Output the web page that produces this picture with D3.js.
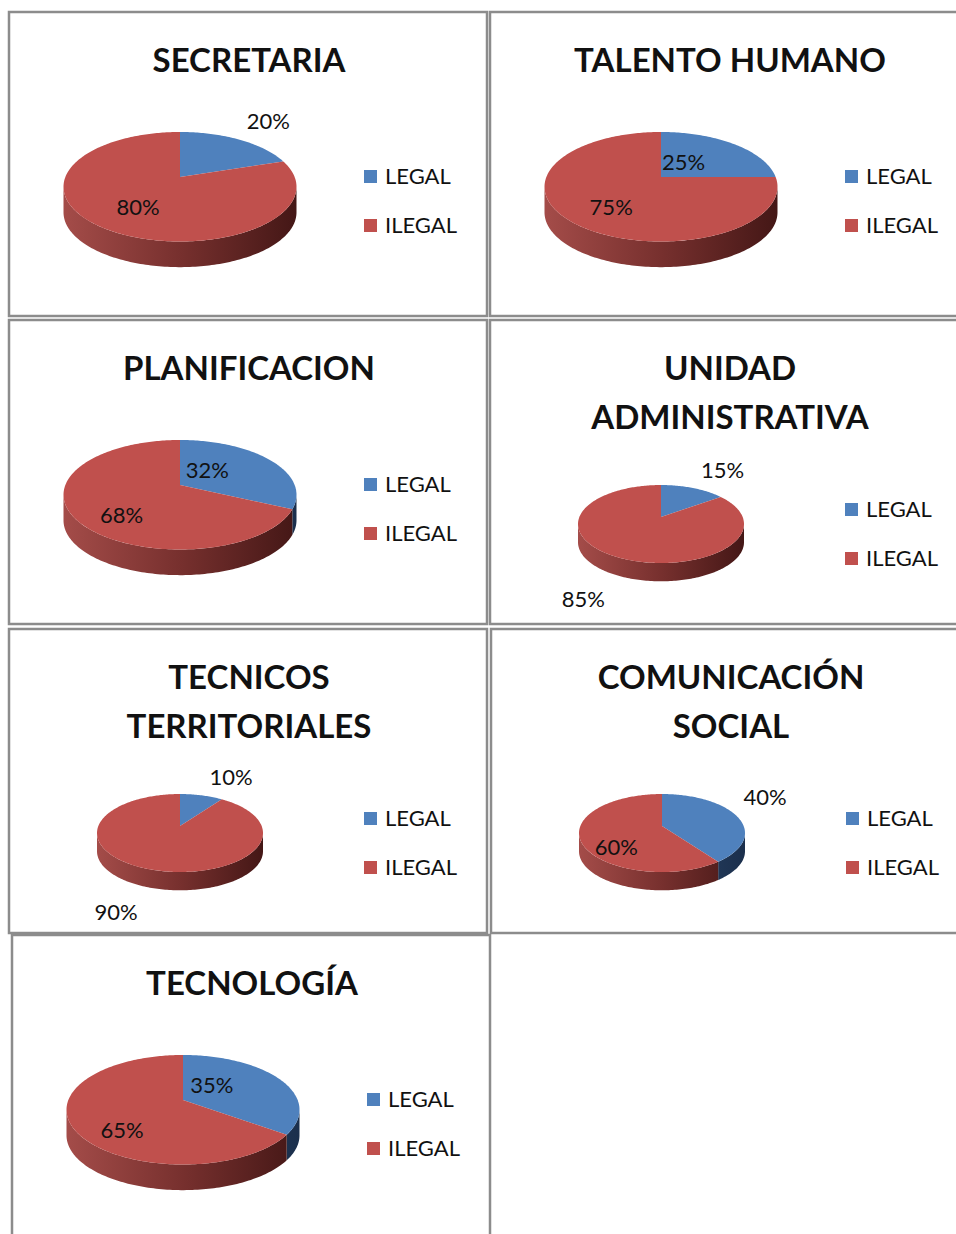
<!DOCTYPE html>
<html>
<head>
<meta charset="utf-8">
<script src="https://cdn.jsdelivr.net/npm/d3@7"></script>
<style>
  body { margin: 0; background: #fff; }
  text { font-family: Lato, "Open Sans", sans-serif; fill: #111; }
</style>
</head>
<body>
<div id="chart-area"></div>
<script>
// chart data
var titles = [
    ["SECRETARIA"],
    ["TALENTO HUMANO"],
    ["PLANIFICACION"],
    ["UNIDAD", "ADMINISTRATIVA"],
    ["TECNICOS", "TERRITORIALES"],
    ["COMUNICACIÓN", "SOCIAL"],
    ["TECNOLOGÍA"]
];
var categories = ["LEGAL", "ILEGAL"];
var legalPct  = [20, 25, 32, 15, 10, 40, 35];
var ilegalPct = [80, 75, 68, 85, 90, 60, 65];
// where excel put each data label (inside / outside the pie)
var labelMode = [
    ["out", "in"], ["in", "in"], ["in", "in"], ["out", "out"],
    ["out", "out"], ["out", "in"], ["in", "in"]
];

// layout of the seven boxes
var boxes = [[9, 12], [490, 12], [9, 320], [490, 320], [9, 629], [491, 629], [12, 935]];
var boxW = 478, boxH = 304;

var colors = d3.scaleOrdinal().domain(categories).range(["#4f81bd", "#c0504d"]);
var sideColors = {
    LEGAL:  ["#5b80b4", "#2a4569", "#1b2f4c"],
    ILEGAL: ["#a44c49", "#77302e", "#441716"]
};

var svg = d3.select("#chart-area")
    .append("svg")
    .attr("width", 956)
    .attr("height", 1234);

var defs = svg.append("defs");

var pie = d3.pie().sort(null).value(function(d) { return d.value; });
var line = d3.line();
var persp = 0.18;   // perspective of the 3d pie

titles.forEach(function(title, i) {
    var bx = boxes[i][0], by = boxes[i][1];
    var twoLines = title.length > 1;

    var g = svg.append("g").attr("transform", "translate(" + bx + "," + by + ")");

    g.append("rect")
        .attr("x", 0).attr("y", 0)
        .attr("width", i % 2 == 1 ? 480 : boxW)
        .attr("height", boxH)
        .attr("fill", "#fff")
        .attr("stroke", "#8c8c8c")
        .attr("stroke-width", 2.5);

    title.forEach(function(txt, j) {
        g.append("text")
            .attr("x", 240)
            .attr("y", 60 + j * 49)
            .attr("text-anchor", "middle")
            .style("font-size", "33px")
            .style("font-weight", "bold")
            .text(txt);
    });

    // pie geometry
    var rx = twoLines ? 83 : 116.5;
    var ry = rx * 0.47;
    var depth = rx * 0.22;
    var cx = 171;
    var cy = (twoLines ? 165 : 120) + ry;      // centre of the outline ellipse
    var ay = cy - persp * ry;                  // projected pie centre
    var A = rx * Math.sqrt(1 - persp * persp);
    var B = ry * (1 - persp * persp);

    // angle (clockwise from 12 o'clock) + radius fraction -> screen point
    function proj(a, k, dy) {
        var u = Math.sin(a) * k, v = -Math.cos(a) * k;
        var s = 1 / (1 - persp * v);
        return [cx + A * u * s, ay + B * v * s + (dy || 0)];
    }
    function rim(a0, a1, dy) {
        var n = Math.max(2, Math.ceil(Math.abs(a1 - a0) / 0.02));
        return d3.range(n + 1).map(function(j) {
            return proj(a0 + (a1 - a0) * j / n, 1, dy);
        });
    }

    var data = categories.map(function(c, k) {
        return { cat: c, value: k == 0 ? legalPct[i] : ilegalPct[i], mode: labelMode[i][k] };
    });
    var arcs = pie(data);

    // gradients for the side wall
    categories.forEach(function(c) {
        var gr = defs.append("linearGradient")
            .attr("id", "side" + i + c)
            .attr("gradientUnits", "userSpaceOnUse")
            .attr("x1", cx - rx).attr("x2", cx + rx)
            .attr("y1", 0).attr("y2", 0);
        gr.append("stop").attr("offset", 0).attr("stop-color", sideColors[c][0]);
        gr.append("stop").attr("offset", 0.5).attr("stop-color", sideColors[c][1]);
        gr.append("stop").attr("offset", 1).attr("stop-color", sideColors[c][2]);
    });

    // side wall, only the part facing us
    var t0 = Math.PI / 2 + Math.asin(persp), t1 = 3 * Math.PI / 2 - Math.asin(persp);
    arcs.forEach(function(d) {
        var s = Math.max(d.startAngle, t0);
        var e = Math.min(d.endAngle, t1);
        if (s >= e) return;
        var pts = rim(s, e, 0).concat(rim(e, s, depth));
        g.append("path")
            .attr("d", line(pts) + "Z")
            .attr("fill", "url(#side" + i + d.data.cat + ")");
    });

    // top face
    g.selectAll(".slice")
        .data(arcs)
        .enter()
        .append("path")
        .attr("d", function(d) {
            return line([[cx, ay]].concat(rim(d.startAngle, d.endAngle, 0))) + "Z";
        })
        .attr("fill", function(d) { return colors(d.data.cat); });

    // data labels
    arcs.forEach(function(d) {
        var a = (d.startAngle + d.endAngle) / 2;
        var front = Math.cos(a) < 0;
        var t = g.append("text")
            .style("font-size", "22px")
            .text(d.data.value + "%");
        if (d.data.mode == "in") {
            var p = proj(a, front ? 0.57 : 0.29, 0);
            t.attr("x", p[0])
             .attr("y", ay + ry * (front ? 0.55 : -0.28) + 8)
             .attr("text-anchor", "middle");
        } else {
            var q = proj(a, 1, front ? depth : 0);
            var right = Math.sin(a) > 0;
            t.attr("x", q[0] + (right ? 8 : -12))
             .attr("y", front ? q[1] + 32 : q[1] - 10)
             .attr("text-anchor", right ? "start" : "end");
        }
    });

    // legend
    var ly = twoLines ? 183 : 158;
    var legend = g.selectAll(".legend")
        .data(categories)
        .enter()
        .append("g")
        .attr("transform", function(d, k) { return "translate(355," + (ly + k * 49) + ")"; });
    legend.append("rect")
        .attr("width", 13).attr("height", 13)
        .attr("fill", function(d) { return colors(d); });
    legend.append("text")
        .attr("x", 21).attr("y", 14)
        .style("font-size", "22px")
        .text(function(d) { return d; });
});
</script>
</body>
</html>
